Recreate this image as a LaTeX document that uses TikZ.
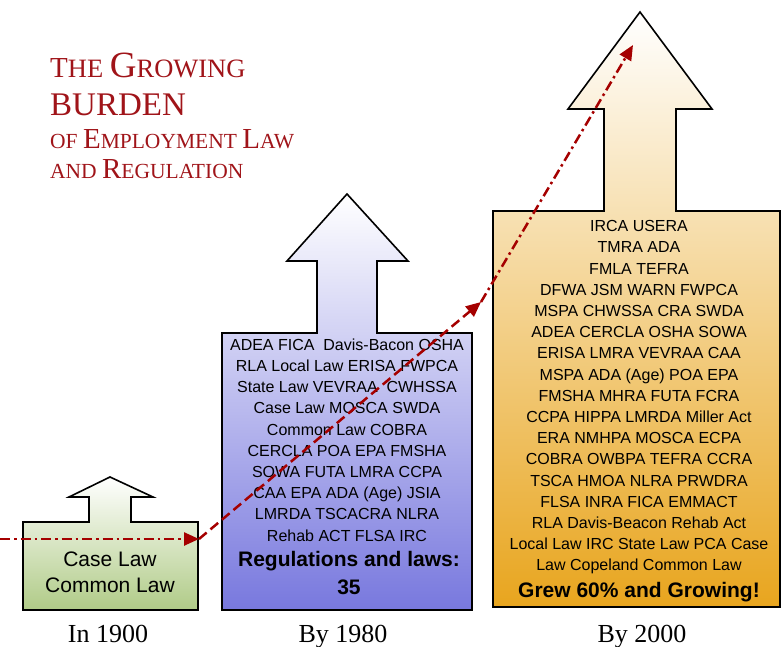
\documentclass[tikz,border=0pt]{standalone}
\usepackage{fontspec}
\setmainfont{Liberation Serif}
\setsansfont{Liberation Sans}
\usetikzlibrary{arrows.meta}

\definecolor{burdenred}{RGB}{160,20,25}
\definecolor{trendred}{RGB}{165,0,0}
\definecolor{green1900}{RGB}{176,203,135}
\definecolor{blue1980}{RGB}{120,120,222}
\definecolor{gold2000}{RGB}{232,165,30}
\newcommand{\titlesize}[1]{\fontsize{#1}{#1}\selectfont}

\begin{document}
\begin{tikzpicture}
	[x=1pt, y=-1pt,
	 upbox/.style={draw=black, line width=1.6pt, line join=miter, top color=white},
	 lawlist/.style={font=\sffamily\fontsize{16}{21.2}\selectfont, align=center, text=black},
	 lawtotal/.style={font=\sffamily\bfseries\fontsize{21}{28}\selectfont, align=center},
	 yearlabel/.style={font=\fontsize{26}{26}\selectfont, anchor=base},
	 titleline/.style={anchor=base west, text=burdenred, inner sep=0pt},
	 trend/.style={draw=trendred, line width=2.5pt, -{Triangle[length=15pt,width=13pt]}},
	 trenddot/.style={dash pattern=on 10pt off 4pt on 2.5pt off 4pt},
	 trenddash/.style={dash pattern=on 10pt off 5pt}]
	\useasboundingbox (0,0) rectangle (782,647);

	% title
	\node[titleline] (title1) at (50,78) {\titlesize{29}T\titlesize{26.5}HE \titlesize{37}G\titlesize{26.5}ROWING};
	\node[titleline] (title2) at (50,116) {\titlesize{33}BURDEN};
	\node[titleline] (title3) at (50,149) {\titlesize{21.5}OF \titlesize{29}E\titlesize{21.5}MPLOYMENT \titlesize{29}L\titlesize{21.5}AW};
	\node[titleline] (title4) at (50,179) {\titlesize{21.5}AND \titlesize{29}R\titlesize{21.5}EGULATION};

	% the three arrows
	\path[upbox, bottom color=green1900] (23,610) -- (23,522) -- (89,522) -- (89,497) -- (69,497) -- (110,477)
		-- (153,497) -- (131,497) -- (131,522) -- (198,522) -- (198,610) -- cycle;
	\path[upbox, bottom color=blue1980] (222,610) -- (222,333) -- (317,333) -- (317,261) -- (287,261) -- (347,194)
		-- (408,261) -- (377,261) -- (377,333) -- (472,333) -- (472,610) -- cycle;
	\path[upbox, bottom color=gold2000] (493,607) -- (493,211) -- (604,211) -- (604,109) -- (568,109) -- (640,12)
		-- (712,109) -- (676,109) -- (676,211) -- (780,211) -- (780,607) -- cycle;

	% contents
	\node[lawlist, font=\sffamily\fontsize{21}{26}\selectfont] (laws1900) at (110,572.5) {Case Law\\Common Law};
	\node[lawlist] (laws1980) at (347,440) {ADEA FICA\ \ Davis-Bacon OSHA\\RLA Local Law ERISA FWPCA\\State Law VEVRAA\ \ CWHSSA\\
		Case Law MOSCA SWDA\\Common Law COBRA\\CERCLA POA EPA FMSHA\\SOWA FUTA LMRA CCPA\\
		CAA EPA ADA (Age) JSIA\\LMRDA TSCACRA NLRA\\Rehab ACT FLSA IRC};
	\node[lawtotal] (total1980) at (349,572.7) {Regulations and laws:\\35};
	\node[lawlist] (laws2000) at (639,397.4) {IRCA USERA\\TMRA ADA\\FMLA TEFRA\\DFWA JSM WARN FWPCA\\
		MSPA CHWSSA CRA SWDA\\ADEA CERCLA OSHA SOWA\\ERISA LMRA VEVRAA CAA\\MSPA ADA (Age) POA EPA\\
		FMSHA MHRA FUTA FCRA\\CCPA HIPPA LMRDA Miller Act\\ERA NMHPA MOSCA ECPA\\COBRA OWBPA TEFRA CCRA\\
		TSCA HMOA NLRA PRWDRA\\FLSA INRA FICA EMMACT\\RLA Davis-Beacon Rehab Act\\
		Local Law IRC State Law PCA Case\\Law Copeland Common Law};
	\node[lawtotal, anchor=base] (total2000) at (639,597) {Grew 60\% and Growing!};

	% years
	\node[yearlabel] (year1900) at (108,642) {In 1900};
	\node[yearlabel] (year1980) at (343,642) {By 1980};
	\node[yearlabel] (year2000) at (642,642) {By 2000};

	% trend line
	\coordinate (start) at (0,539);
	\coordinate (tip1900) at (199,539);
	\coordinate (tip1980) at (481,302);
	\coordinate (tip2000) at (633,45);
	\draw[trend, trenddot] (start) -- (tip1900);
	\draw[trend, trenddash] (tip1900) -- (tip1980);
	\draw[trend, trenddot] (tip1980) -- (tip2000);
\end{tikzpicture}
\end{document}
